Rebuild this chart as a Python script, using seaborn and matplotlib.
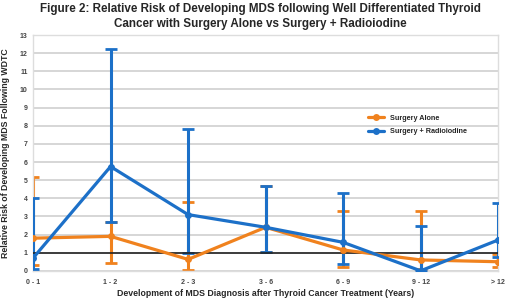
import numpy as np
import pandas as pd
import seaborn as sns
import matplotlib.pyplot as plt

# Data
periods = ["0 - 1", "1 - 2", "2 - 3", "3 - 6", "6 - 9", "9 - 12", "> 12"]

alone_rr = [1.8, 1.9, 0.63, 2.4, 1.15, 0.6, 0.5]
alone_lo = [0.3, 0.43, 0.05, 1.02, 0.2, 0.1, 0.22]
alone_hi = [5.2, 2.7, 3.8, 4.7, 3.3, 3.3, 0.95]

radio_rr = [0.7, 5.75, 3.1, 2.4, 1.57, 0.0, 1.7]
radio_lo = [0.08, 2.7, 0.97, 1.02, 0.4, 0.0, 0.78]
radio_hi = [4.0, 12.25, 7.8, 4.7, 4.27, 2.47, 3.76]

orange = "#F0821E"
blue = "#1C70C8"

df = pd.DataFrame({
    "Period": periods * 2,
    "RR": alone_rr + radio_rr,
    "Group": ["Surgery Alone"] * 7 + ["Surgery + Radioiodine"] * 7,
})

sns.set_style("white")
plt.rcParams["font.family"] = ["Liberation Sans", "DejaVu Sans"]

fig = plt.figure(figsize=(5.2, 3.01), dpi=100)
ax = fig.add_axes([0.0635, 0.1003, 0.8945, 0.7831])

# horizontal grid
for yv in range(0, 14):
    ax.axhline(yv, color="#d6d6d6", lw=1.4, zorder=0)

# error bars (blue drawn over orange)
xs = np.arange(len(periods))
for rr, lo, hi, col, z in [(alone_rr, alone_lo, alone_hi, orange, 2.5),
                           (radio_rr, radio_lo, radio_hi, blue, 3)]:
    rr = np.array(rr)
    err = [rr - np.array(lo), np.array(hi) - rr]
    ax.errorbar(xs, rr, yerr=err, fmt="none", ecolor=col, elinewidth=2.2,
                capsize=4, capthick=2, zorder=z)

sns.lineplot(data=df, x="Period", y="RR", hue="Group",
             palette={"Surgery Alone": orange, "Surgery + Radioiodine": blue},
             marker="o", markersize=5, markeredgewidth=0, linewidth=2.3,
             sort=False, ax=ax, zorder=4)

ax.plot([0, 6], [1, 1], color="#222222", lw=1.2, zorder=3.5)

ax.set_xlim(0, 6)
ax.set_ylim(0, 13)
ax.set_yticks(range(0, 14))
ax.set_xticks(xs)
ax.set_xticklabels(periods)
ax.tick_params(axis="both", length=0, labelsize=5, colors="#444444")
ax.tick_params(axis="x", pad=6)
ax.tick_params(axis="y", pad=4)
for lab in ax.get_xticklabels() + ax.get_yticklabels():
    lab.set_fontweight("bold")
for s in ax.spines.values():
    s.set_color("#dddddd")
    s.set_linewidth(1)

ax.set_xlabel("Development of MDS Diagnosis after Thyroid Cancer Treatment (Years)",
              fontsize=6.3, fontweight="bold", labelpad=2)
ax.set_ylabel("Relative Risk of Developing MDS Following WDTC",
              fontsize=6.3, fontweight="bold", labelpad=7)

fig.suptitle("Figure 2: Relative Risk of Developing MDS following Well Differentiated Thyroid\n"
             "Cancer with Surgery Alone vs Surgery + Radioiodine",
             fontsize=8.4, fontweight="bold", y=0.99, linespacing=1.35)

leg = ax.legend(loc="upper left", bbox_to_anchor=(0.715, 0.675), frameon=False,
                fontsize=5.2, handlelength=2.2, labelspacing=0.9, borderaxespad=0)
for t in leg.get_texts():
    t.set_fontweight("bold")

fig.savefig("out.png", dpi=100)
